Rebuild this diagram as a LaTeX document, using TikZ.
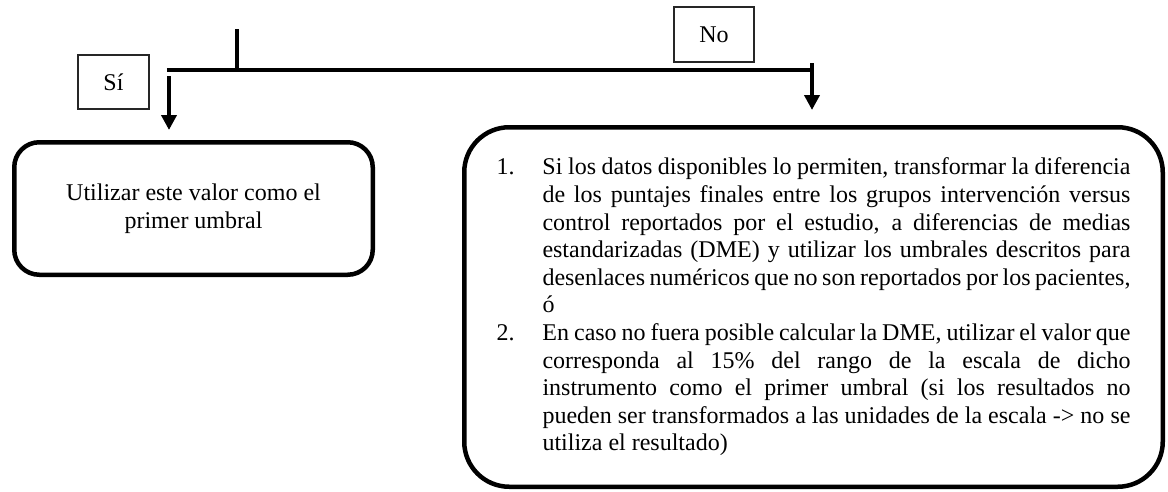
\documentclass[tikz,border=0pt]{standalone}
\usepackage{fontspec}
\setmainfont{Liberation Serif}
\usetikzlibrary{arrows.meta}
\tikzstyle{etiqueta} = [rectangle, draw=black!85, line width=1.2pt, inner sep=0pt, font=\fontsize{24}{28}\selectfont]
\tikzstyle{flecha} = [line width=4.5pt, -{Triangle[length=15pt,width=15pt]}]

\begin{document}
\begin{tikzpicture}[x=1pt, y=-1pt,
    caja/.style={draw=black, rectangle, line width=4.5pt, rounded corners=#1, inner sep=0pt, font=\fontsize{24}{27.6}\selectfont},
    caja/.default=25pt,
    linea/.style={draw, line width=4.5pt}
]
\useasboundingbox (0,0) rectangle (1168,491);

% Etiquetas
\node[etiqueta, minimum width=71pt, minimum height=54pt] (si) at (113.5,82) {Sí};
\node[etiqueta, minimum width=80pt, minimum height=55pt] (no) at (714,34.5) {No};

% Cajas
\node[caja, minimum width=358.5pt, minimum height=132.5pt, align=center] (umbral) at (193.5,208.5)
  {\fontsize{24}{29}\selectfont Utilizar este valor como el\\ primer umbral};
\node[caja=45pt, minimum width=698.5pt, minimum height=359.5pt, text width=634pt, align=justify] (opciones) at (813.5,307) {%
\parindent=0pt
\hangindent=46pt\hangafter=1\makebox[46pt][l]{1.}Si los datos disponibles lo permiten, transformar la diferencia\linebreak
de los puntajes finales entre los grupos intervención versus\linebreak
control reportados por el estudio, a diferencias de medias\linebreak
estandarizadas (DME) y utilizar los umbrales descritos para\linebreak
desenlaces numéricos que no son reportados por los pacientes,\linebreak
ó\par
\hangindent=46pt\hangafter=1\makebox[46pt][l]{2.}En caso no fuera posible calcular la DME, utilizar el valor que\linebreak
corresponda al 15\% del rango de la escala de dicho\linebreak
instrumento como el primer umbral (si los resultados no\linebreak
pueden ser transformados a las unidades de la escala -> no se\linebreak
utiliza el resultado)\par};

% Conectores
\coordinate (entrada) at (237,29);
\coordinate (ramaSi) at (169,70);
\coordinate (ramaNo) at (812,70);
\coordinate (bajaSi) at (169,76);
\coordinate (bajaNo) at (812,63);

\draw[linea] (entrada) -- (entrada |- ramaSi);
\draw[linea] ([xshift=-2.25pt]ramaSi) -- (ramaNo);
\draw[flecha, shorten >=10pt] (bajaSi) -- (bajaSi |- umbral.north);
\draw[flecha, shorten >=15pt] (bajaNo) -- (bajaNo |- opciones.north);
\end{tikzpicture}
\end{document}
